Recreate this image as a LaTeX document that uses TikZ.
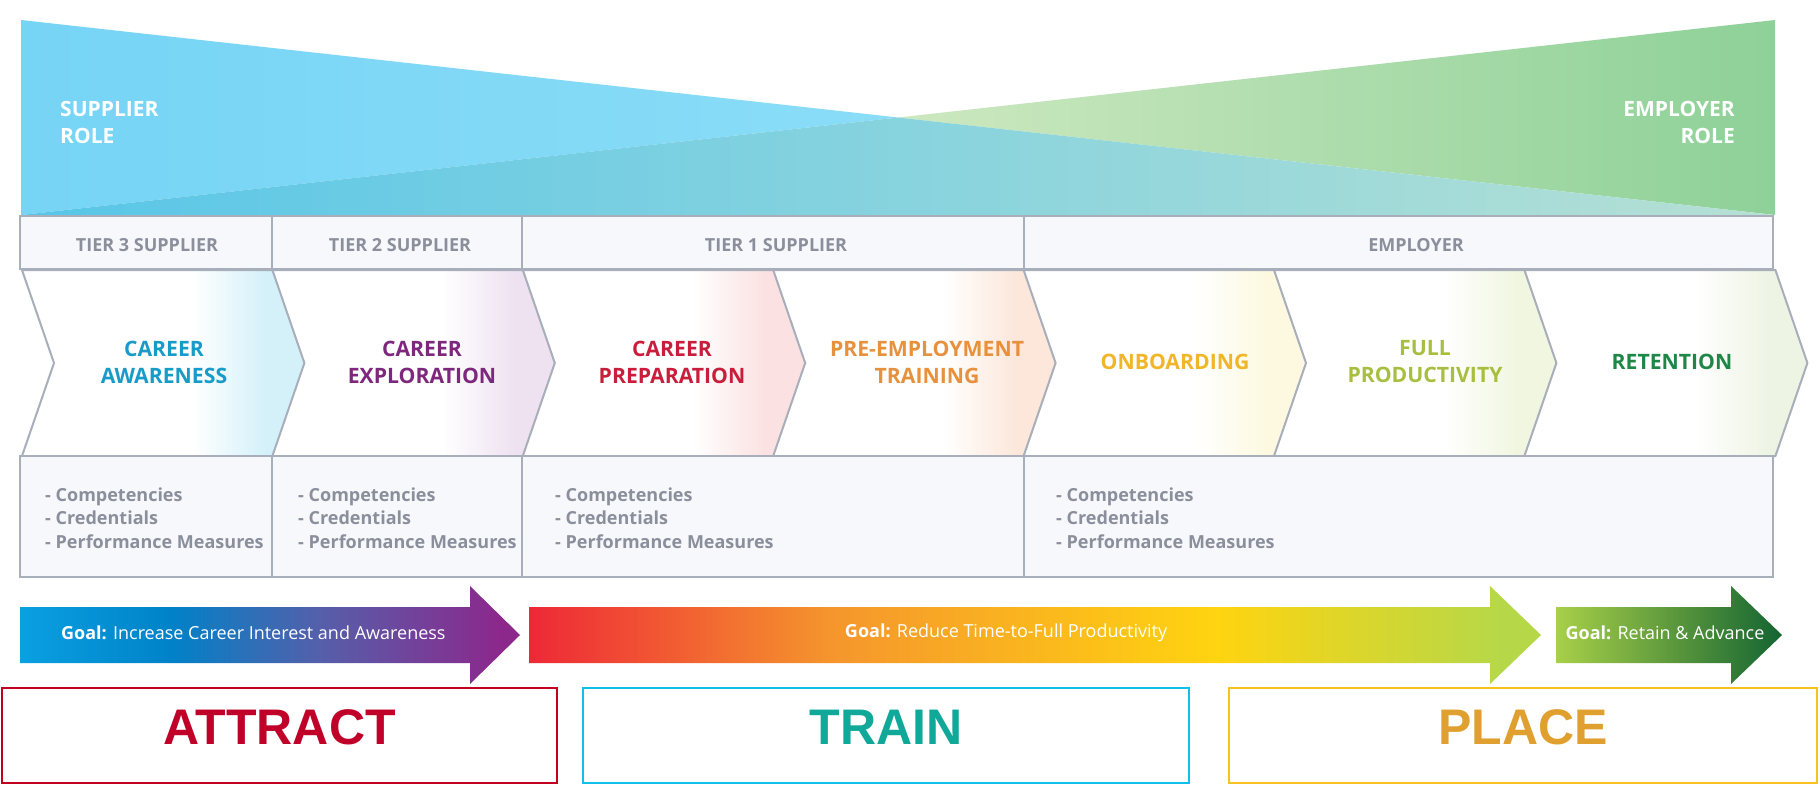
\documentclass[tikz,border=0pt]{standalone}
\usepackage{fontspec}
\setmainfont{Open Sans}
\newfontfamily\phasefont{Liberation Sans}

\definecolor{linegray}{RGB}{168,174,186}
\definecolor{panel}{RGB}{246,248,252}
\definecolor{tiergray}{RGB}{138,143,155}
\definecolor{blueL}{RGB}{118,212,245}
\definecolor{blueR}{RGB}{138,221,247}
\definecolor{greenL}{RGB}{205,232,192}
\definecolor{greenR}{RGB}{142,209,152}
\definecolor{mixL}{RGB}{88,198,232}
\definecolor{mixM}{RGB}{130,210,222}
\definecolor{mixR}{RGB}{182,224,212}
\definecolor{awareC}{RGB}{25,155,200}
\definecolor{exploreC}{RGB}{125,40,125}
\definecolor{prepC}{RGB}{200,30,60}
\definecolor{preempC}{RGB}{232,145,60}
\definecolor{onboardC}{RGB}{240,182,40}
\definecolor{fullC}{RGB}{168,190,64}
\definecolor{retainC}{RGB}{30,135,72}
\definecolor{awareT}{RGB}{212,241,250}
\definecolor{exploreT}{RGB}{238,225,240}
\definecolor{prepT}{RGB}{251,225,225}
\definecolor{preempT}{RGB}{252,231,218}
\definecolor{onboardT}{RGB}{253,249,224}
\definecolor{fullT}{RGB}{241,246,224}
\definecolor{retainT}{RGB}{238,244,228}
\definecolor{gOneA}{RGB}{10,160,225}
\definecolor{gOneB}{RGB}{0,130,200}
\definecolor{gOneC}{RGB}{85,95,170}
\definecolor{gOneD}{RGB}{140,40,140}
\definecolor{gTwoA}{RGB}{238,40,55}
\definecolor{gTwoB}{RGB}{245,150,45}
\definecolor{gTwoC}{RGB}{255,212,16}
\definecolor{gTwoD}{RGB}{182,216,72}
\definecolor{gThreeA}{RGB}{168,208,72}
\definecolor{gThreeB}{RGB}{20,100,50}
\definecolor{attractC}{RGB}{192,0,40}
\definecolor{attractB}{RGB}{192,0,30}
\definecolor{trainC}{RGB}{16,168,152}
\definecolor{trainB}{RGB}{16,192,232}
\definecolor{placeC}{RGB}{224,160,48}
\definecolor{placeB}{RGB}{248,192,32}

\pgfdeclarehorizontalshading{goalone}{100bp}{color(0bp)=(gOneA); color(25bp)=(gOneA);
  color(40bp)=(gOneB); color(55bp)=(gOneC); color(73bp)=(gOneD); color(100bp)=(gOneD)}
\pgfdeclarehorizontalshading{goaltwo}{100bp}{color(0bp)=(gTwoA); color(25bp)=(gTwoA);
  color(40bp)=(gTwoB); color(59bp)=(gTwoC); color(73bp)=(gTwoD); color(100bp)=(gTwoD)}

\begin{document}
\begin{tikzpicture}
    [x=1pt, y=-1pt,
    frame/.style={
        draw=linegray,
        line width=2.5pt,
        fill=panel
    },
    divider/.style={draw=linegray, line width=2pt},
    chev/.style={draw=linegray, line width=2pt},
    role/.style={text=white, inner sep=0pt, font=\fontsize{21}{27}\selectfont\bfseries},
    tier/.style={text=tiergray, font=\fontsize{18}{22}\selectfont\bfseries},
    stage/.style={align=center, font=\fontsize{21.2}{27}\selectfont\bfseries},
    measure/.style={anchor=west, align=left, inner sep=0pt, text=tiergray,
        font=\fontsize{18}{23.5}\selectfont\bfseries},
    goal/.style={text=white, inner sep=0pt, font=\fontsize{18}{20}\selectfont},
    phase/.style={draw, line width=2pt, fill=white, minimum width=555pt,
        minimum height=95pt, text depth=17pt, font=\phasefont\fontsize{50}{60}\selectfont\bfseries}
    ]
    \useasboundingbox (0,0) rectangle (1820,787);
    \fill[white] (0,0) rectangle (1820,787);

    % role triangles
    \coordinate (cross) at (898,117.5);
    \shade[left color=blueL, right color=blueR] (21,20) -- (cross) -- (21,215) -- cycle;
    \shade[left color=greenL, right color=greenR] (1775,20) -- (1775,215) -- (cross) -- cycle;
    \shade[left color=mixL, middle color=mixM, right color=mixR] (21,215) -- (cross) -- (1775,215) -- cycle;
    \node[role, anchor=west, align=left] (supplier) at (60,122) {SUPPLIER\\ROLE};
    \node[role, anchor=east, align=right] (employer) at (1735,122) {EMPLOYER\\ROLE};

    % stages
    \foreach \i/\tint/\col/\name/\lx in {0/awareT/awareC/{CAREER\\AWARENESS}/164,
        1/exploreT/exploreC/{CAREER\\EXPLORATION}/422, 2/prepT/prepC/{CAREER\\PREPARATION}/672,
        3/preempT/preempC/{PRE-EMPLOYMENT\\TRAINING}/927, 4/onboardT/onboardC/{ONBOARDING}/1175,
        5/fullT/fullC/{FULL\\PRODUCTIVITY}/1425, 6/retainT/retainC/{RETENTION}/1672}{
        \pgfmathsetmacro{\l}{22+250.4*\i}
        \pgfdeclarehorizontalshading{chevshade\i}{100bp}{color(0bp)=(white); color(55bp)=(white);
            color(68bp)=(\tint); color(100bp)=(\tint)}
        \draw[chev, shading=chevshade\i] (\l,270) -- ++(251,0) -- ++(32,93) -- ++(-32,93)
            -- ++(-251,0) -- ++(32,-93) -- cycle;
        \node[stage, text=\col] (stage\i) at (\lx,362) {\name};
    }

    % tiers
    \draw[frame] (20,216) rectangle (1773,269);
    \draw[frame] (20,456) rectangle (1773,577);
    \foreach \x in {272,522,1024}{
        \path[divider] (\x,216) -- (\x,269);
        \path[divider] (\x,456) -- (\x,577);
    }
    \node[tier] (tier3) at (147,245) {TIER 3 SUPPLIER};
    \node[tier] (tier2) at (400,245) {TIER 2 SUPPLIER};
    \node[tier] (tier1) at (776,245) {TIER 1 SUPPLIER};
    \node[tier] (employ) at (1416,245) {EMPLOYER};
    \foreach \x/\n in {45/1, 298/2, 555/3, 1056/4}
        \node[measure] (meas\n) at (\x,518) {- Competencies\\- Credentials\\- Performance Measures};

    % goals
    \shade[shading=goalone] (20,607) -- (470,607) -- (470,586) -- (520,635) -- (470,684)
        -- (470,663) -- (20,663) -- cycle;
    \shade[shading=goaltwo] (529,607) -- (1490,607) -- (1490,586) -- (1541,635) -- (1490,684)
        -- (1490,663) -- (529,663) -- cycle;
    \shade[left color=gThreeA, right color=gThreeB] (1556,607) -- (1731,607) -- (1731,586)
        -- (1782,635) -- (1731,684) -- (1731,663) -- (1556,663) -- cycle;
    \node[goal, anchor=west] (goal1) at (61,633) {\textbf{Goal:} Increase Career Interest and Awareness};
    \node[goal] (goal2) at (1006,633) {\textbf{Goal:} Reduce Time-to-Full Productivity};
    \node[goal] (goal3) at (1665,633) {\textbf{Goal:} Retain \& Advance};

    % phases
    \node[phase, draw=attractB, text=attractC] (attract) at (279.5,735.5) {ATTRACT};
    \node[phase, draw=trainB, text=trainC, minimum width=606pt] (train) at (886,735.5) {TRAIN};
    \node[phase, draw=placeB, text=placeC, minimum width=588pt] (place) at (1523,735.5) {PLACE};
\end{tikzpicture}
\end{document}
